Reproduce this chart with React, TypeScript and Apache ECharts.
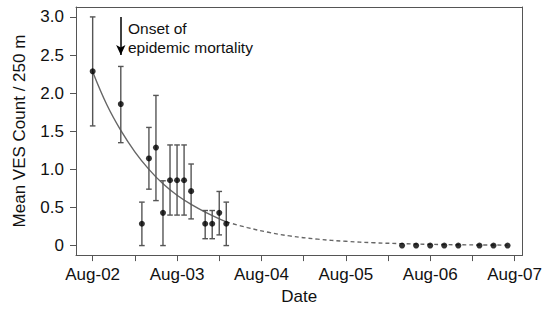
import React, { useEffect, useRef } from "react";
import * as echarts from "echarts";

// x values are months since Aug-02
const tickMonths = [0, 6, 12, 18, 24, 30, 36, 42, 48, 54, 60];
const labelMonths = [0, 12, 24, 36, 48, 60];
const labelNames = ["Aug-02", "Aug-03", "Aug-04", "Aug-05", "Aug-06", "Aug-07"];
const yTicks = [0, 0.5, 1, 1.5, 2, 2.5, 3];

const earlyMonths = [0, 4, 7, 8, 9, 10, 11, 12, 13, 14, 16, 17, 18, 19];
const earlyMeans = [2.286, 1.857, 0.286, 1.143, 1.286, 0.429, 0.857, 0.857, 0.857, 0.714, 0.286, 0.286, 0.429, 0.286];
const earlyLower = [1.57, 1.35, 0, 0.74, 0.59, 0, 0.4, 0.4, 0.4, 0.35, 0.09, 0.09, 0.14, 0];
const earlyUpper = [3.0, 2.35, 0.57, 1.55, 1.97, 0.85, 1.32, 1.32, 1.32, 1.07, 0.46, 0.46, 0.71, 0.57];

const lateMonths = [44, 46, 48, 50, 52, 55, 57, 59];
const lateMeans = [0, 0, 0, 0, 0, 0, 0, 0];

const fitSolidMonths = [0, 2, 4, 6, 8, 10, 12, 14, 16, 19];
const fitSolidValues = [2.28, 1.85, 1.51, 1.23, 1.0, 0.81, 0.66, 0.54, 0.44, 0.31];
const fitDashMonths = [19, 22, 25, 28, 32, 36, 40, 44, 50, 55, 59];
const fitDashValues = [0.31, 0.236, 0.174, 0.127, 0.084, 0.056, 0.037, 0.025, 0.013, 0.008, 0.006];

const onsetMonth = 4;

const FONT = "'Liberation Sans', Arial, Helvetica, sans-serif";
const GRAY = "#555555";

export default function App() {
  const ref = useRef<HTMLDivElement>(null);
  useEffect(() => {
    if (!ref.current) return;
    const chart = echarts.init(ref.current, null, { renderer: "svg" });
    const errData = earlyMonths.map((m, i) => [m, earlyLower[i], earlyUpper[i]]);
    const frameAxis = {
      axisLine: { show: true, onZero: false, lineStyle: { color: GRAY, width: 1 } },
      axisTick: { show: false },
      axisLabel: { show: false },
      splitLine: { show: false },
    };
    chart.setOption({
      animation: false,
      textStyle: { fontFamily: FONT },
      grid: {
        left: 76,
        right: 21,
        top: 7,
        bottom: 50,
        show: false,
      },
      xAxis: [
        {
          type: "value",
          min: -2.37,
          max: 61.13,
          name: "Date",
          nameLocation: "middle",
          nameGap: 32,
          nameTextStyle: { fontSize: 17, color: "#111", fontFamily: FONT },
          axisLine: { show: true, onZero: false, lineStyle: { color: GRAY, width: 1 } },
          splitLine: { show: false },
          axisTick: { show: true, length: 6, customValues: tickMonths, lineStyle: { color: GRAY } },
          axisLabel: {
            customValues: labelMonths,
            fontSize: 17,
            color: "#111",
            margin: 11,
            fontFamily: FONT,
            formatter: (v: number) => labelNames[labelMonths.indexOf(Math.round(v))] ?? "",
          },
        },
        { type: "value", position: "top", min: -2.37, max: 61.13, ...frameAxis },
      ],
      yAxis: [
        {
          type: "value",
          min: -0.125,
          max: 3.13,
          name: "Mean VES Count / 250 m",
          nameLocation: "middle",
          nameGap: 48,
          nameTextStyle: { fontSize: 17, color: "#111", fontFamily: FONT },
          axisLine: { show: true, onZero: false, lineStyle: { color: GRAY, width: 1 } },
          splitLine: { show: false },
          axisTick: { show: true, length: 6, customValues: yTicks, lineStyle: { color: GRAY } },
          axisLabel: {
            customValues: yTicks,
            fontSize: 17,
            color: "#111",
            margin: 12,
            fontFamily: FONT,
            formatter: (v: number) => (Math.abs(v) < 1e-9 ? "0" : v.toFixed(1)),
          },
        },
        { type: "value", position: "right", min: -0.125, max: 3.13, ...frameAxis },
      ],
      series: [
        {
          type: "line",
          data: fitSolidMonths.map((m, i) => [m, fitSolidValues[i]]),
          smooth: 0.4,
          showSymbol: false,
          lineStyle: { color: "#666", width: 1.4 },
          z: 2,
        },
        {
          type: "line",
          data: fitDashMonths.map((m, i) => [m, fitDashValues[i]]),
          smooth: 0.4,
          showSymbol: false,
          lineStyle: { color: "#666", width: 1.4, type: [4, 3] },
          z: 2,
        },
        {
          type: "custom",
          data: errData,
          encode: { x: 0, y: [1, 2] },
          z: 3,
          renderItem: (params: any, api: any) => {
            const x = api.value(0);
            const top = api.coord([x, api.value(2)]);
            const bot = api.coord([x, api.value(1)]);
            const cw = 2.8;
            const style = { stroke: GRAY, lineWidth: 1.4 };
            return {
              type: "group",
              children: [
                { type: "line", shape: { x1: top[0], y1: top[1], x2: bot[0], y2: bot[1] }, style },
                { type: "line", shape: { x1: top[0] - cw, y1: top[1], x2: top[0] + cw, y2: top[1] }, style },
                { type: "line", shape: { x1: bot[0] - cw, y1: bot[1], x2: bot[0] + cw, y2: bot[1] }, style },
              ],
            };
          },
        },
        {
          type: "scatter",
          data: earlyMonths.map((m, i) => [m, earlyMeans[i]]),
          symbolSize: 6,
          itemStyle: { color: "#000" },
          z: 4,
        },
        {
          type: "scatter",
          data: lateMonths.map((m, i) => [m, lateMeans[i]]),
          symbolSize: 6,
          itemStyle: { color: "#000" },
          z: 4,
          markLine: {
            silent: true,
            symbol: ["none", "arrow"],
            symbolSize: [7, 10],
            label: { show: false },
            lineStyle: { color: "#000", width: 1.5, type: "solid" },
            data: [[{ coord: [onsetMonth, 3.0] }, { coord: [onsetMonth, 2.5] }]],
          },
        },
      ],
      graphic: [
        {
          type: "text",
          left: 128,
          top: 19,
          style: {
            text: "Onset of\nepidemic mortality",
            font: `15.5px ${FONT}`,
            fill: "#111",
            lineHeight: 19,
          },
        },
      ],
    });
    return () => chart.dispose();
  }, []);
  return <div ref={ref} style={{ position: "fixed", left: 0, top: 0, width: 545, height: 310, background: "#fff" }} />;
}
